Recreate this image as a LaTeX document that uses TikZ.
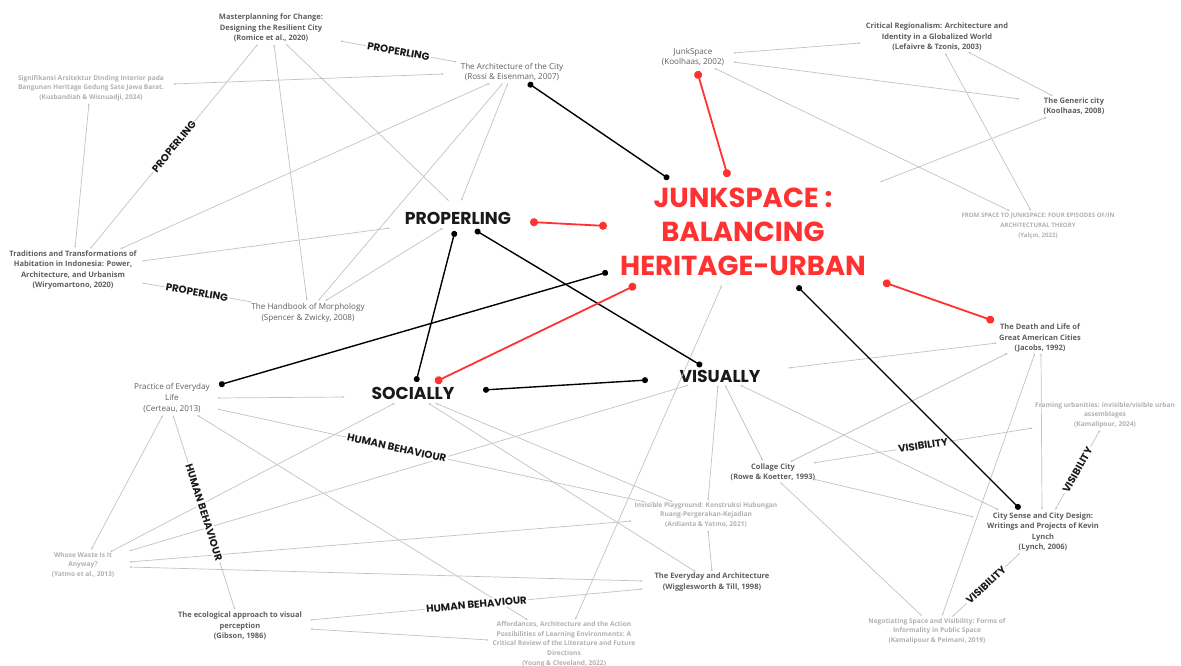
\documentclass[tikz,border=0pt]{standalone}
\usepackage{fontspec}
\setmainfont{Open Sans}
\newfontfamily\popfont{Poppins}
\usetikzlibrary{arrows.meta}
\definecolor{refgrey}{HTML}{5E5E5E}
\definecolor{lightgrey}{HTML}{B0B0B0}
\definecolor{linegrey}{HTML}{C2C2C2}
\definecolor{junkred}{HTML}{FF3131}

\begin{document}
\begin{tikzpicture}[x=1pt,y=-1pt,
    ref/.style={align=center,text=refgrey,font=\fontsize{7.5}{10.5}\selectfont\bfseries},
    refplain/.style={align=center,text=refgrey,font=\fontsize{8.1}{10.8}\selectfont},
    reflight/.style={align=center,text=lightgrey,font=\fontsize{6.6}{9.7}\selectfont\bfseries},
    theme/.style={text=black!90,font={\popfont\fontsize{17.2}{19}\selectfont\bfseries}},
    tag/.style={sloped,fill=white,inner sep=1.5pt,text=black!90,font={\popfont\fontsize{10.2}{12}\selectfont\bfseries}},
    link/.style={draw=linegrey,line width=0.7pt,{Latex[length=2.5pt,width=2pt]}-{Latex[length=2.5pt,width=2pt]}},
    blacklink/.style={line width=1.4pt,{Circle[length=6pt]}-{Circle[length=6pt]}},
    redlink/.style={draw=junkred,line width=1.8pt,{Circle[length=8pt]}-{Circle[length=8pt]}}]
  \useasboundingbox (0,0) rectangle (1181,666);

  % title and themes
  \node[align=center,text=junkred,font={\popfont\fontsize{27.5}{34}\selectfont\bfseries}] (title) at (743,232) {JUNKSPACE :\\BALANCING\\HERITAGE-URBAN};
  \node[theme] (prop) at (458,218) {PROPERLING};
  \node[theme] (soc) at (413,393) {SOCIALLY};
  \node[theme] (vis) at (720,376) {VISUALLY};

  % references
  \node[ref] (mp) at (271,28) {Masterplanning for Change:\\Designing the Resilient City\\(Romice et al., 2020)};
  \node[refplain] (ac) at (512,72) {The Architecture of the City\\(Rossi \& Eisenman, 2007)};
  \node[reflight] (sig) at (91,88) {Signifikansi Arsitektur Dinding Interior pada\\Bangunan Heritage Gedung Sate Jawa Barat.\\(Kusbandiah \& Wisnuadji, 2024)};
  \node[refplain] (js) at (693,57) {JunkSpace\\(Koolhaas, 2002)};
  \node[ref] (cr) at (937,37) {Critical Regionalism: Architecture and\\Identity in a Globalized World\\(Lefaivre \& Tzonis, 2003)};
  \node[ref] (gc) at (1074,106) {The Generic city\\(Koolhaas, 2008)};
  \node[reflight,font=\fontsize{6.1}{9.7}\selectfont\bfseries] (fs) at (1038,226) {FROM SPACE TO JUNKSPACE: FOUR EPISODES OF/IN\\ARCHITECTURAL THEORY\\(Yalçın, 2022)};
  \node[ref] (tt) at (73,270) {Traditions and Transformations of\\Habitation in Indonesia: Power,\\Architecture, and Urbanism\\(Wiryomartono, 2020)};
  \node[refplain] (hm) at (308,313) {The Handbook of Morphology\\(Spencer \& Zwicky, 2008)};
  \node[ref] (dl) at (1040,338) {The Death and Life of\\Great American Cities\\(Jacobs, 1992)};
  \node[refplain] (pe) at (172,398) {Practice of Everyday\\Life\\(Certeau, 2013)};
  \node[reflight] (fu) at (1105,415) {Framing urbanities: invisible/visible urban\\assemblages\\(Kamalipour, 2024)};
  \node[ref] (cc) at (773,472) {Collage City\\(Rowe \& Koetter, 1993)};
  \node[reflight] (ip) at (706,515) {Invisible Playground: Konstruksi Hubungan\\Ruang-Pergerakan-Kejadian\\(Ardianta \& Yatmo, 2021)};
  \node[ref] (cs) at (1043,532) {City Sense and City Design:\\Writings and Projects of Kevin\\Lynch\\(Lynch, 2006)};
  \node[reflight] (ww) at (83,565) {Whose Waste Is It\\Anyway?\\(Yatmo et al., 2013)};
  \node[ref] (ea) at (712,582) {The Everyday and Architecture\\(Wigglesworth \& Till, 1998)};
  \node[ref] (eco) at (240,626) {The ecological approach to visual\\perception\\(Gibson, 1986)};
  \node[reflight] (af) at (564,644) {Affordances, Architecture and the Action\\Possibilities of Learning Environments: A\\Critical Review of the Literature and Future\\Directions\\(Young \& Cleveland, 2022)};
  \node[reflight] (ng) at (937,631) {Negotiating Space and Visibility: Forms of\\Informality in Public Space\\(Kamalipour \& Peimani, 2019)};

  % thin links
  \draw[link] ([shift={(-13,16)}]mp.center) -- node[tag]{PROPERLING} ([shift={(17,-21)}]tt.center);
  \draw[link] ([shift={(3,16)}]mp.center) -- ([shift={(-1,-12)}]hm.center);
  \draw[link] ([shift={(15,16)}]mp.center) -- ([shift={(-9,-17)}]prop.center);
  \draw[link] ([shift={(69,13)}]mp.center) -- node[tag]{PROPERLING} ([shift={(-55,-10)}]ac.center);
  \draw[link] ([shift={(-68,2)}]ac.center) -- ([shift={(82,-4)}]sig.center);
  \draw[link] ([shift={(-22,11)}]ac.center) -- ([shift={(47,-21)}]tt.center);
  \draw[link] ([shift={(-9,11)}]ac.center) -- ([shift={(10,-12)}]hm.center);
  \draw[link] ([shift={(-4,11)}]ac.center) -- ([shift={(3,-17)}]prop.center);
  \draw[link] ([shift={(-2,15)}]sig.center) -- ([shift={(2,-22)}]tt.center);
  \draw[link] ([shift={(69,-9)}]tt.center) -- ([shift={(-68,10)}]prop.center);
  \draw[link] ([shift={(69,13)}]tt.center) -- node[tag]{PROPERLING} ([shift={(-56,-11)}]hm.center);
  \draw[link] ([shift={(17,-12)}]hm.center) -- ([shift={(-15,10)}]prop.center);
  \draw[link] ([shift={(40,-4)}]js.center) -- ([shift={(-76,6)}]cr.center);
  \draw[link] ([shift={(40,5)}]js.center) -- ([shift={(-54,-7)}]gc.center);
  \draw[link] ([shift={(21,11)}]js.center) -- ([shift={(-28,-15)}]fs.center);
  \draw[link] ([shift={(8,16)}]cr.center) -- ([shift={(-7,-15)}]fs.center);
  \draw[link] ([shift={(31,15)}]cr.center) -- ([shift={(-21,-10)}]gc.center);
  \draw[link] ([shift={(-27,11)}]gc.center) -- ([shift={(137,-50)}]title.center);
  \draw[link] ([shift={(68,-8)}]vis.center) -- ([shift={(-43,5)}]dl.center);
  \draw[link] ([shift={(17,-10)}]cc.center) -- ([shift={(-32,15)}]dl.center);
  \draw[link] ([shift={(-5,15)}]dl.center) -- ([shift={(5,-15)}]ng.center);
  \draw[link] ([shift={(1,15)}]dl.center) -- ([shift={(-1,-22)}]cs.center);
  \draw[link] ([shift={(-31,9)}]vis.center) -- ([shift={(46,-14)}]ww.center);
  \draw[link] ([shift={(-2,9)}]vis.center) -- ([shift={(2,-14)}]ip.center);
  \draw[link] ([shift={(5,9)}]vis.center) -- ([shift={(-10,-11)}]cc.center);
  \draw[link] ([shift={(20,9)}]vis.center) -- ([shift={(-44,-22)}]cs.center);
  \draw[link] ([shift={(-21,53)}]title.center) -- ([shift={(11,-24)}]af.center);
  \draw[link] ([shift={(-68,4)}]soc.center) -- ([shift={(45,0)}]pe.center);
  \draw[link] ([shift={(-18,10)}]soc.center) -- ([shift={(27,-13)}]ww.center);
  \draw[link] ([shift={(15,10)}]soc.center) -- ([shift={(-16,-10)}]ea.center);
  \draw[link] ([shift={(22,10)}]soc.center) -- ([shift={(-33,-13)}]ip.center);
  \draw[link] ([shift={(46,-3)}]ww.center) -- ([shift={(-74,6)}]ip.center);
  \draw[link] ([shift={(46,2)}]ww.center) -- ([shift={(-69,-1)}]ea.center);
  \draw[link] ([shift={(45,11)}]pe.center) -- node[tag,pos=0.42]{HUMAN BEHAVIOUR} ([shift={(-61,-13)}]ip.center);
  \draw[link] ([shift={(-9,17)}]pe.center) -- ([shift={(8,-15)}]ww.center);
  \draw[link] ([shift={(1,17)}]pe.center) -- node[tag]{HUMAN BEHAVIOUR} ([shift={(-5,-16)}]eco.center);
  \draw[link] ([shift={(25,17)}]pe.center) -- ([shift={(-36,-24)}]af.center);
  \draw[link] ([shift={(70,-6)}]eco.center) -- node[tag]{HUMAN BEHAVIOUR} ([shift={(-69,7)}]ea.center);
  \draw[link] ([shift={(70,3)}]eco.center) -- ([shift={(-75,-4)}]af.center);
  \draw[link] ([shift={(2,15)}]ip.center) -- ([shift={(0,-10)}]ea.center);
  \draw[link] ([shift={(40,-9)}]cc.center) -- node[tag]{VISIBILITY} ([shift={(-72,13)}]fu.center);
  \draw[link] ([shift={(-5,15)}]fu.center) -- node[tag]{VISIBILITY} ([shift={(12,-22)}]cs.center);
  \draw[link] ([shift={(-23,21)}]cs.center) -- node[tag]{VISIBILITY} ([shift={(15,-14)}]ng.center);
  \draw[link] ([shift={(40,7)}]cc.center) -- ([shift={(-69,-15)}]cs.center);
  \draw[link] ([shift={(7,10)}]cc.center) -- ([shift={(-15,-15)}]ng.center);

  % main links
  \draw[blacklink] ([shift={(16,11)}]ac.center) -- ([shift={(-74,-53)}]title.center);
  \draw[blacklink] ([shift={(-3,13)}]prop.center) -- ([shift={(3,-11)}]soc.center);
  \draw[blacklink] ([shift={(17,12)}]prop.center) -- ([shift={(-18,-10)}]vis.center);
  \draw[blacklink] ([shift={(-135,40)}]title.center) -- ([shift={(47,-13)}]pe.center);
  \draw[blacklink] ([shift={(70,-3)}]soc.center) -- ([shift={(-72,4)}]vis.center);
  \draw[blacklink] ([shift={(54,54)}]title.center) -- ([shift={(-23,-23)}]cs.center);
  \draw[redlink] ([shift={(4,14)}]js.center) -- ([shift={(-15,-55)}]title.center);
  \draw[redlink] ([shift={(72,4)}]prop.center) -- ([shift={(-136,-6)}]title.center);
  \draw[redlink] ([shift={(-107,53)}]title.center) -- ([shift={(22,-11)}]soc.center);
  \draw[redlink] ([shift={(140,50)}]title.center) -- ([shift={(-46,-17)}]dl.center);
\end{tikzpicture}
\end{document}
